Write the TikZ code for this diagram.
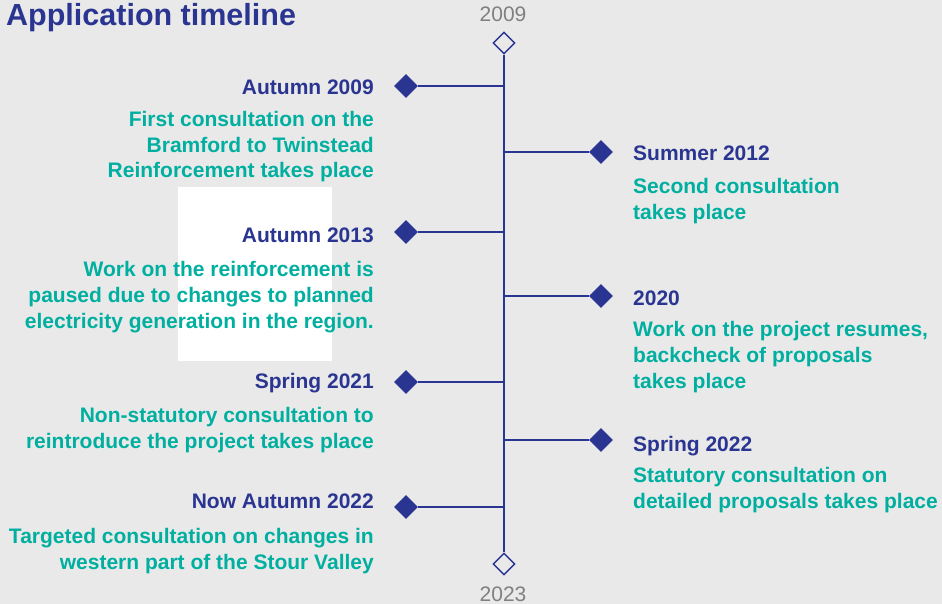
\documentclass[tikz,border=0pt]{standalone}
\usepackage{fontspec}
\setmainfont{Liberation Sans}
\usetikzlibrary{shapes.geometric}
\definecolor{bgc}{RGB}{233,233,233}
\definecolor{navy}{RGB}{42,53,145}
\definecolor{teal}{RGB}{0,175,160}
\definecolor{yeargray}{RGB}{128,128,128}
\tikzset{
  spine/.style={draw=navy, line width=1.4pt},
  dot/.style={diamond, shape aspect=1, fill=navy, draw=none, inner sep=0pt, minimum size=24pt},
  enddot/.style={diamond, shape aspect=1, fill=bgc, draw=navy, line width=1.4pt, inner sep=0pt, minimum size=22pt},
  evtitle/.style={text=navy, font=\fontsize{21}{26}\selectfont\bfseries, inner sep=0pt},
  evdesc/.style={text=teal, font=\fontsize{21}{25.7}\selectfont\bfseries, inner sep=0pt},
  yearlbl/.style={text=yeargray, font=\fontsize{21}{26}\selectfont, inner sep=0pt},
}
\begin{document}
\begin{tikzpicture}[x=1pt,y=-1pt]
\fill[bgc] (0,0) rectangle (942,604);
\useasboundingbox (0,0) rectangle (942,604);
\fill[white] (178,187) rectangle (332,361);

\node[anchor=base west, text=navy, font=\fontsize{30.5}{34}\selectfont\bfseries, inner sep=0pt] (title) at (6,26) {Application timeline};

% spine
\node[enddot] (top) at (504,43) {};
\node[enddot] (bot) at (504,564) {};
\draw[spine] (top) -- (bot);
\node[yearlbl, anchor=base] (y1) at (503,22) {2009};
\node[yearlbl, anchor=base] (y2) at (503,601) {2023};

% spine points
\coordinate (s1) at (504,86);
\coordinate (s2) at (504,152);
\coordinate (s3) at (504,232);
\coordinate (s4) at (504,296);
\coordinate (s5) at (504,382);
\coordinate (s6) at (504,440);
\coordinate (s7) at (504,507);

% left events (multi-line nodes anchored at last line's baseline)
\node[dot] (d1) at (406,86) {};
\draw[spine] (d1) -- (s1);
\node[evtitle, anchor=base east] (t1) at (374,95) {Autumn 2009};
\node[evdesc, anchor=base east, align=right] (e1) at (374,178) {First consultation on the\\Bramford to Twinstead\\Reinforcement takes place};

\node[dot] (d3) at (406,232) {};
\draw[spine] (d3) -- (s3);
\node[evtitle, anchor=base east] (t3) at (374,242) {Autumn 2013};
\node[evdesc, anchor=base east, align=right] (e3) at (374,328) {Work on the reinforcement is\\paused due to changes to planned\\electricity generation in the region.};

\node[dot] (d5) at (406,382) {};
\draw[spine] (d5) -- (s5);
\node[evtitle, anchor=base east] (t5) at (374,388) {Spring 2021};
\node[evdesc, anchor=base east, align=right] (e5) at (374,448) {Non-statutory consultation to\\reintroduce the project takes place};

\node[dot] (d7) at (406,507) {};
\draw[spine] (d7) -- (s7);
\node[evtitle, anchor=base east] (t7) at (374,508) {Now Autumn 2022};
\node[evdesc, anchor=base east, align=right] (e7) at (374,569) {Targeted consultation on changes in\\western part of the Stour Valley};

% right events
\node[dot] (d2) at (601,152) {};
\draw[spine] (s2) -- (d2);
\node[evtitle, anchor=base west] (t2) at (633,161) {Summer 2012};
\node[evdesc, anchor=base west, align=left] (e2) at (633,219) {Second consultation\\takes place};

\node[dot] (d4) at (601,296) {};
\draw[spine] (s4) -- (d4);
\node[evtitle, anchor=base west] (t4) at (633,305) {2020};
\node[evdesc, anchor=base west, align=left] (e4) at (633,388) {Work on the project resumes,\\backcheck of proposals\\takes place};

\node[dot] (d6) at (601,440) {};
\draw[spine] (s6) -- (d6);
\node[evtitle, anchor=base west] (t6) at (633,451) {Spring 2022};
\node[evdesc, anchor=base west, align=left] (e6) at (633,508) {Statutory consultation on\\detailed proposals takes place};
\end{tikzpicture}
\end{document}
